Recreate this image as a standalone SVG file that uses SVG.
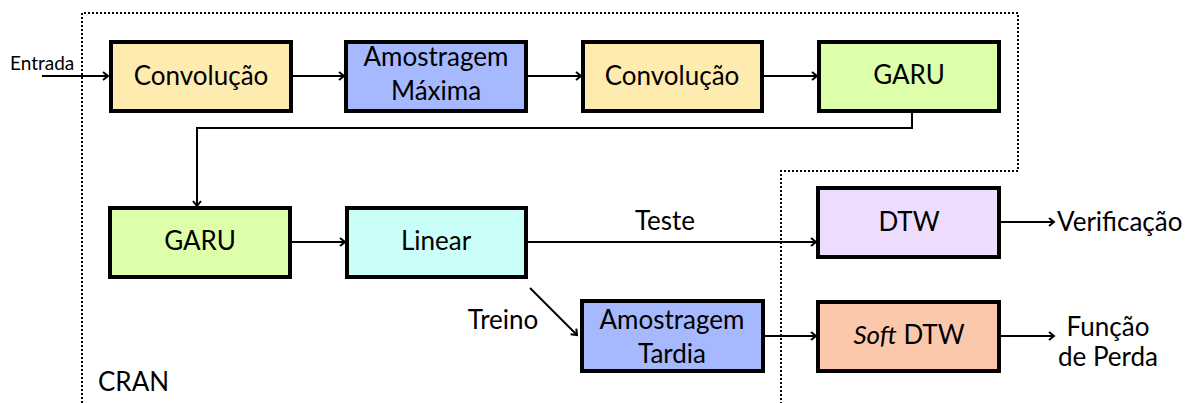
<svg xmlns="http://www.w3.org/2000/svg" width="1190" height="403" viewBox="0 0 1190 403">
  <style>
    .box { stroke: #000; stroke-width: 4; }
    .lbl { font-family: Lato, "Liberation Sans", sans-serif; font-size: 26px; fill: #000; text-anchor: middle; }
    .free { font-family: Lato, "Liberation Sans", sans-serif; font-size: 26px; fill: #000; }
    .wire { fill: none; stroke: #000; stroke-width: 2; }
    .conv { fill: #FEEBB0; }
    .pool { fill: #A6B9FF; }
    .garu { fill: #DDFFAA; }
    .lin { fill: #C9FFF8; }
    .dtw { fill: #EEDCFF; }
    .soft { fill: #FCC8AC; }
  </style>
  <defs>
    <marker id="arrow" markerUnits="userSpaceOnUse" markerWidth="12" markerHeight="12" refX="9" refY="6" orient="auto">
      <path d="M4,2 L9,6 L4,10" fill="none" stroke="#000" stroke-width="2"/>
    </marker>
  </defs>

  <!-- CRAN region boundary -->
  <path id="cran-border" d="M82,403 V13 H1018 V171 H781 V403" fill="none" stroke="#000" stroke-width="2" stroke-dasharray="2 2"/>
  <text class="free" x="98" y="391">CRAN</text>

  <g id="conv1">
    <rect class="box conv" x="111" y="42" width="180" height="69"/>
    <text class="lbl" x="201" y="85">Convolução</text>
  </g>
  <g id="maxpool">
    <rect class="box pool" x="346" y="42" width="180" height="69"/>
    <text class="lbl" x="436" y="66">Amostragem</text>
    <text class="lbl" x="436" y="100">Máxima</text>
  </g>
  <g id="conv2">
    <rect class="box conv" x="583" y="42" width="179" height="69"/>
    <text class="lbl" x="672" y="85">Convolução</text>
  </g>
  <g id="garu1">
    <rect class="box garu" x="819" y="42" width="180" height="69"/>
    <text class="lbl" x="909" y="84">GARU</text>
  </g>
  <g id="garu2">
    <rect class="box garu" x="110" y="208" width="180" height="69"/>
    <text class="lbl" x="200" y="250">GARU</text>
  </g>
  <g id="linear">
    <rect class="box lin" x="347" y="208" width="179" height="69"/>
    <text class="lbl" x="436" y="250">Linear</text>
  </g>
  <g id="dtw">
    <rect class="box dtw" x="818" y="188" width="181" height="69"/>
    <text class="lbl" x="909" y="231">DTW</text>
  </g>
  <g id="late-pool">
    <rect class="box pool" x="582" y="301" width="181" height="70"/>
    <text class="lbl" x="672" y="329">Amostragem</text>
    <text class="lbl" x="672" y="363">Tardia</text>
  </g>
  <g id="soft-dtw">
    <rect class="box soft" x="818" y="302" width="181" height="69"/>
    <text class="lbl" x="909" y="344"><tspan font-style="italic">Soft</tspan> DTW</text>
  </g>

  <g id="connectors">
    <path class="wire" d="M42,76 H108" marker-end="url(#arrow)"/>
    <path class="wire" d="M293,76 H344" marker-end="url(#arrow)"/>
    <path class="wire" d="M528,76 H581" marker-end="url(#arrow)"/>
    <path class="wire" d="M764,76 H817" marker-end="url(#arrow)"/>
    <path class="wire" d="M912,113 V128 H197 V206" marker-end="url(#arrow)"/>
    <path class="wire" d="M292,242 H345" marker-end="url(#arrow)"/>
    <path class="wire" d="M528,242 H816" marker-end="url(#arrow)"/>
    <path class="wire" d="M530,288 L577,335" marker-end="url(#arrow)"/>
    <path class="wire" d="M765,336 H816" marker-end="url(#arrow)"/>
    <path class="wire" d="M1001,222 H1054" marker-end="url(#arrow)"/>
    <path class="wire" d="M1001,336 H1054" marker-end="url(#arrow)"/>
  </g>

  <g id="labels">
    <text x="10" y="70" font-family="Lato, 'Liberation Sans', sans-serif" font-size="19">Entrada</text>
    <text class="lbl" x="665" y="230">Teste</text>
    <text class="lbl" x="503" y="329">Treino</text>
    <text class="free" x="1057" y="231">Verificação</text>
    <text class="lbl" x="1108" y="336" font-size="25">Função</text>
    <text class="lbl" x="1108" y="366" font-size="25">de Perda</text>
  </g>
</svg>
